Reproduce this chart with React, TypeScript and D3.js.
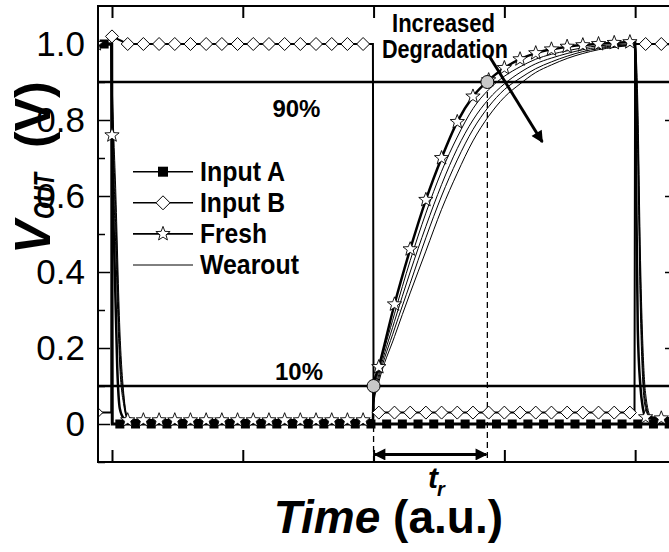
import React, { useRef, useEffect } from 'react';
import * as d3 from 'd3';

const FONT = "'Liberation Sans', Arial, Helvetica, sans-serif";

// marker grid for stars and diamonds (time in a.u.)
const markTimes = [-1.2, 0, 1.2, 2.4, 3.6, 4.8, 6, 7.2, 8.4, 9.6, 10.8, 12, 13.2, 14.4, 15.6, 16.8, 18, 19.2,
  20.4, 21.6, 22.8, 24, 25.2, 26.4, 27.6, 28.8, 30, 31.2, 32.4, 33.6, 34.8, 36, 37.2, 38.4, 39.6, 40.8, 42];
// marker grid for the filled squares
const squareTimes = [-0.6, 0.6, 1.8, 3, 4.2, 5.4, 6.6, 7.8, 9, 10.2, 11.4, 12.6, 13.8, 15, 16.2, 17.4, 18.6, 19.8,
  21, 22.2, 23.4, 24.6, 25.8, 27, 28.2, 29.4, 30.6, 31.8, 33, 34.2, 35.4, 36.6, 37.8, 39, 40.2, 41.4, 42.6];

const inputA = [1, 0, 0, 0, 0, 0, 0, 0, 0, 0, 0, 0, 0, 0, 0, 0, 0, 0,
  0, 0, 0, 0, 0, 0, 0, 0, 0, 0, 0, 0, 0, 0, 0, 0, 0, 0, 0];
const inputAEdges = [[-1.1, 1], [-0.02, 1], [0.02, 0], [43.2, 0]];

const inputB = [0.03, 1.02, 1, 1, 1, 1, 1, 1, 1, 1, 1, 1, 1, 1, 1, 1, 1, 1,
  0.03, 0.03, 0.03, 0.03, 0.03, 0.03, 0.03, 0.03, 0.03, 0.03, 0.03, 0.03, 0.03, 0.03, 0.03, 0.03, 0.03, 1, 1];
const inputBEdges = [[-0.05, 0.03], [19.95, 1], [20, 0.03], [39.95, 0.03], [40, 1], [43.2, 1]];

const fresh = [1, 0.76, 0.01, 0.01, 0.01, 0.01, 0.01, 0.01, 0.01, 0.01, 0.01, 0.01, 0.01, 0.01, 0.01, 0.01, 0.01, 0.01,
  0.15, 0.315, 0.46, 0.59, 0.7, 0.795, 0.862, 0.905, 0.937, 0.96, 0.976, 0.986, 0.993, 0.997, 1, 1.003, 1.005, 0.018, 0.015];
const freshEdges = [[-0.05, 1], [0.2, 0.42], [0.4, 0.15], [0.6, 0.04], [0.9, 0.015], [19.95, 0.01], [20, 0.1],
  [40, 1.005], [40.1, 0.55], [40.2, 0.25], [40.4, 0.1], [40.6, 0.04], [43.2, 0.015]];

const wearout1 = [[-1.1, 1], [-0.05, 1], [0, 0.85], [0.3, 0.45], [0.6, 0.15], [0.9, 0.05], [1.2, 0.012], [2.4, 0.01],
  [19.95, 0.01], [20, 0.08], [20.4, 0.14], [21.6, 0.29], [22.8, 0.43], [24, 0.555], [25.2, 0.665], [26.4, 0.755],
  [27.6, 0.83], [28.8, 0.88], [30, 0.915], [31.2, 0.94], [32.4, 0.96], [33.6, 0.973], [34.8, 0.982], [36, 0.99],
  [37.2, 0.995], [38.4, 0.998], [39.6, 1], [40, 1], [40.2, 0.7], [40.4, 0.3], [40.6, 0.1], [40.8, 0.04], [41.2, 0.012], [43.2, 0.01]];
const wearout2 = [[-1.1, 1], [-0.05, 1], [0, 0.88], [0.3, 0.5], [0.6, 0.18], [0.9, 0.06], [1.2, 0.014], [2.4, 0.01],
  [19.95, 0.01], [20, 0.07], [20.4, 0.13], [21.6, 0.27], [22.8, 0.4], [24, 0.52], [25.2, 0.63], [26.4, 0.725],
  [27.6, 0.8], [28.8, 0.855], [30, 0.895], [31.2, 0.925], [32.4, 0.948], [33.6, 0.963], [34.8, 0.975], [36, 0.985],
  [37.2, 0.991], [38.4, 0.995], [39.6, 0.998], [40, 0.999], [40.2, 0.75], [40.4, 0.35], [40.6, 0.13], [40.8, 0.05], [41.2, 0.014], [43.2, 0.01]];
const wearout3 = [[-1.1, 1], [-0.05, 1], [0, 0.9], [0.3, 0.55], [0.6, 0.21], [0.9, 0.07], [1.2, 0.016], [2.4, 0.01],
  [19.95, 0.01], [20, 0.06], [20.4, 0.12], [21.6, 0.25], [22.8, 0.37], [24, 0.49], [25.2, 0.6], [26.4, 0.695],
  [27.6, 0.775], [28.8, 0.835], [30, 0.88], [31.2, 0.91], [32.4, 0.935], [33.6, 0.953], [34.8, 0.968], [36, 0.98],
  [37.2, 0.988], [38.4, 0.993], [39.6, 0.997], [40, 0.998], [40.2, 0.8], [40.4, 0.4], [40.6, 0.16], [40.8, 0.06], [41.2, 0.016], [43.2, 0.01]];
const wearout4 = [[-1.1, 1], [-0.05, 1], [0, 0.92], [0.3, 0.6], [0.6, 0.25], [0.9, 0.08], [1.2, 0.018], [2.4, 0.01],
  [19.95, 0.01], [20, 0.05], [20.4, 0.11], [21.6, 0.23], [22.8, 0.345], [24, 0.455], [25.2, 0.565], [26.4, 0.66],
  [27.6, 0.745], [28.8, 0.81], [30, 0.86], [31.2, 0.895], [32.4, 0.925], [33.6, 0.945], [34.8, 0.962], [36, 0.975],
  [37.2, 0.985], [38.4, 0.991], [39.6, 0.996], [40, 0.997], [40.2, 0.85], [40.4, 0.45], [40.6, 0.2], [40.8, 0.08], [41.2, 0.02], [43.2, 0.01]];
const wearouts = [wearout1, wearout2, wearout3, wearout4];

// 10% / 90% crossing points of the fresh curve
const crossPoints = [[20, 0.1], [28.7, 0.9]];
const levelLines = [0.1, 0.9];
// 90% label sits under its line, 10% label above its line
const levelLabels = [{ t: 14.3, v: 0.1, dy: -6, text: '10%' }, { t: 14.1, v: 0.9, dy: 35, text: '90%' }];

const xTicks = [0, 10, 20, 30, 40];
const yTicks = [0, 0.2, 0.4, 0.6, 0.8, 1.0];
const yTickLabels = ['0', '0.2', '0.4', '0.6', '0.8', '1.0'];
const yMinorTicks = [-0.1, 0.1, 0.3, 0.5, 0.7, 0.9];

const legendItems = ['Input A', 'Input B', 'Fresh', 'Wearout'];
const legendWidths = [85, 85, 67, 99];

const starPath = (r) => {
  const pts = [];
  for (let i = 0; i < 10; i++) {
    const rr = i % 2 === 0 ? r : r * 0.42;
    const a = -Math.PI / 2 + i * Math.PI / 5;
    pts.push([rr * Math.cos(a), rr * Math.sin(a)]);
  }
  return 'M' + pts.map(p => p.join(',')).join('L') + 'Z';
};
const diamondPath = (r) => `M0,${-r}L${r},0L0,${r}L${-r},0Z`;

const sortByT = (pts) => pts.slice().sort((a, b) => a[0] - b[0]);

export default function App() {
  const svgRef = useRef(null);

  useEffect(() => {
    const svg = d3.select(svgRef.current);
    svg.selectAll('*').remove();

    const x = d3.scaleLinear().domain([-1.07, 43.2]).range([98, 677]);
    const y = d3.scaleLinear().domain([-0.1, 1.1]).range([462, 6]);
    const [x0, x1] = x.range();
    const [y0, y1] = y.range();

    svg.append('defs').append('clipPath').attr('id', 'plotclip')
      .append('rect').attr('x', x0).attr('y', y1).attr('width', x1 - x0).attr('height', y0 - y1);

    // axes with inward ticks
    const yAxis = d3.axisLeft(y).tickValues(yTicks).tickSize(-12).tickPadding(13)
      .tickFormat((d, i) => yTickLabels[i]);
    const ga = svg.append('g').attr('transform', `translate(${x0},0)`).call(yAxis);
    ga.select('.domain').remove();
    ga.selectAll('text').attr('font-family', FONT).attr('font-size', 35).attr('fill', '#000');
    ga.selectAll('line').attr('stroke-width', 1.5);

    const gm = svg.append('g').attr('transform', `translate(${x0},0)`)
      .call(d3.axisLeft(y).tickValues(yMinorTicks).tickSize(-7).tickFormat(() => ''));
    gm.select('.domain').remove();
    gm.selectAll('line').attr('stroke-width', 1.5);

    const gr = svg.append('g').attr('transform', `translate(${x1},0)`)
      .call(d3.axisRight(y).tickValues(yTicks).tickSize(-12).tickFormat(() => ''));
    gr.select('.domain').remove();
    gr.selectAll('line').attr('stroke-width', 1.5);

    const gt = svg.append('g').attr('transform', `translate(0,${y1})`)
      .call(d3.axisTop(x).tickValues(xTicks).tickSize(-12).tickFormat(() => ''));
    gt.select('.domain').remove();
    gt.selectAll('line').attr('stroke-width', 2);

    const gb = svg.append('g').attr('transform', `translate(0,${y0})`)
      .call(d3.axisBottom(x).tickValues(xTicks).tickSize(-12).tickFormat(() => ''));
    gb.select('.domain').remove();
    gb.selectAll('line').attr('stroke-width', 2);

    const plot = svg.append('g').attr('clip-path', 'url(#plotclip)');

    // 10% and 90% reference lines
    levelLines.forEach(v => {
      plot.append('line').attr('x1', x0).attr('x2', x1).attr('y1', y(v)).attr('y2', y(v))
        .attr('stroke', '#000').attr('stroke-width', 2.5);
    });

    // dashed verticals for t_r
    crossPoints.forEach(([t, v]) => {
      plot.append('line').attr('x1', x(t)).attr('x2', x(t)).attr('y1', y(v)).attr('y2', y0)
        .attr('stroke', '#000').attr('stroke-width', 1.3).attr('stroke-dasharray', '6,4');
    });

    const smooth = d3.line().x(d => x(d[0])).y(d => y(d[1])).curve(d3.curveMonotoneX);
    const straight = d3.line().x(d => x(d[0])).y(d => y(d[1]));

    wearouts.forEach(w => {
      plot.append('path').attr('d', smooth(w)).attr('fill', 'none').attr('stroke', '#000').attr('stroke-width', 1);
    });

    const freshLine = sortByT(markTimes.map((t, i) => [t, fresh[i]]).concat(freshEdges));
    plot.append('path').attr('d', smooth(freshLine)).attr('fill', 'none').attr('stroke', '#000').attr('stroke-width', 2.5);

    const bLine = sortByT(markTimes.map((t, i) => [t, inputB[i]]).concat(inputBEdges));
    plot.append('path').attr('d', straight(bLine)).attr('fill', 'none').attr('stroke', '#000').attr('stroke-width', 2);

    const aLine = sortByT(squareTimes.map((t, i) => [t, inputA[i]]).concat(inputAEdges));
    plot.append('path').attr('d', straight(aLine)).attr('fill', 'none').attr('stroke', '#000').attr('stroke-width', 3);

    // markers
    squareTimes.forEach((t, i) => {
      plot.append('rect').attr('x', x(t) - 4.5).attr('y', y(inputA[i]) - 4.5).attr('width', 9).attr('height', 9).attr('fill', '#000');
    });
    markTimes.forEach((t, i) => {
      plot.append('path').attr('d', diamondPath(6.5)).attr('transform', `translate(${x(t)},${y(inputB[i])})`)
        .attr('fill', '#fff').attr('stroke', '#000').attr('stroke-width', 1);
    });
    markTimes.forEach((t, i) => {
      plot.append('path').attr('d', starPath(7.5)).attr('transform', `translate(${x(t)},${y(fresh[i])})`)
        .attr('fill', '#fff').attr('stroke', '#000').attr('stroke-width', 0.9);
    });

    // 10% / 90% points
    crossPoints.forEach(([t, v]) => {
      plot.append('circle').attr('cx', x(t)).attr('cy', y(v)).attr('r', 6.5)
        .attr('fill', '#c8c8c8').attr('stroke', '#000').attr('stroke-width', 1);
    });

    // frame
    svg.append('rect').attr('x', x0).attr('y', y1).attr('width', x1 - x0).attr('height', y0 - y1)
      .attr('fill', 'none').attr('stroke', '#000').attr('stroke-width', 2);

    const defs = svg.select('defs');
    defs.append('marker').attr('id', 'ahead').attr('viewBox', '0 0 10 10').attr('refX', 9).attr('refY', 5)
      .attr('markerWidth', 5).attr('markerHeight', 4).attr('markerUnits', 'strokeWidth').attr('orient', 'auto-start-reverse')
      .append('path').attr('d', 'M0,0L10,5L0,10Z').attr('fill', '#000');

    // t_r double arrow
    svg.append('line').attr('x1', x(crossPoints[0][0]) + 1).attr('x2', x(crossPoints[1][0]) - 1)
      .attr('y1', y(-0.08)).attr('y2', y(-0.08)).attr('stroke', '#000').attr('stroke-width', 3)
      .attr('marker-start', 'url(#ahead)').attr('marker-end', 'url(#ahead)');

    // degradation arrow
    svg.append('line').attr('x1', x(28.9)).attr('y1', y(0.965)).attr('x2', x(32.9)).attr('y2', y(0.742))
      .attr('stroke', '#000').attr('stroke-width', 3).attr('marker-end', 'url(#ahead)');

    const bold = (sel) => sel.attr('font-family', FONT).attr('font-weight', 'bold').attr('fill', '#000');

    bold(svg.append('text')).attr('x', 392).attr('y', 32).attr('font-size', 25)
      .attr('textLength', 103).attr('lengthAdjust', 'spacingAndGlyphs').text('Increased');
    bold(svg.append('text')).attr('x', 382).attr('y', 58).attr('font-size', 25)
      .attr('textLength', 126).attr('lengthAdjust', 'spacingAndGlyphs').text('Degradation');

    levelLabels.forEach(l => {
      bold(svg.append('text')).attr('x', x(l.t)).attr('y', y(l.v) + l.dy).attr('font-size', 24)
        .attr('text-anchor', 'middle').text(l.text);
    });

    // legend
    legendItems.forEach((name, i) => {
      const ly = 171.7 + i * 31.1;
      const g = svg.append('g');
      g.append('line').attr('x1', 133).attr('x2', 193).attr('y1', ly).attr('y2', ly)
        .attr('stroke', '#000').attr('stroke-width', i === 3 ? 1 : 1.6);
      if (i === 0) g.append('rect').attr('x', 158).attr('y', ly - 5).attr('width', 10).attr('height', 10).attr('fill', '#000');
      if (i === 1) g.append('path').attr('d', diamondPath(7)).attr('transform', `translate(163,${ly})`).attr('fill', '#fff').attr('stroke', '#000');
      if (i === 2) g.append('path').attr('d', starPath(7.5)).attr('transform', `translate(163,${ly})`).attr('fill', '#fff').attr('stroke', '#000').attr('stroke-width', 0.9);
      bold(g.append('text')).attr('x', 200).attr('y', ly + 9).attr('font-size', 27)
        .attr('textLength', legendWidths[i]).attr('lengthAdjust', 'spacingAndGlyphs').text(name);
    });

    // t_r label
    const tr = bold(svg.append('text')).attr('x', 428).attr('y', 488).attr('font-size', 30).attr('font-style', 'italic');
    tr.append('tspan').text('t');
    tr.append('tspan').attr('font-size', 20).attr('dy', 8).attr('dx', -1).text('r');

    // x title
    const xt = bold(svg.append('text')).attr('x', 503).attr('y', 533).attr('font-size', 46).attr('text-anchor', 'end');
    xt.append('tspan').attr('font-style', 'italic').text('Time');
    xt.append('tspan').text(' (a.u.)');

    // y title, drawn as three rotated pieces: V, OUT subscript, (V)
    bold(svg.append('text')).attr('transform', 'translate(50,254) rotate(-90)').attr('font-size', 50)
      .attr('font-style', 'italic').text('V');
    bold(svg.append('text')).attr('transform', 'translate(54,219) rotate(-90)').attr('font-size', 30)
      .attr('font-style', 'italic').attr('textLength', 46).attr('lengthAdjust', 'spacingAndGlyphs').text('OUT');
    bold(svg.append('text')).attr('transform', 'translate(50,148) rotate(-90)').attr('font-size', 50)
      .text('(V)');
  }, []);

  return (
    <div style={{ position: 'absolute', left: 0, top: 0, background: '#fff' }}>
      <svg ref={svgRef} width={669} height={552} style={{ display: 'block' }} />
    </div>
  );
}
